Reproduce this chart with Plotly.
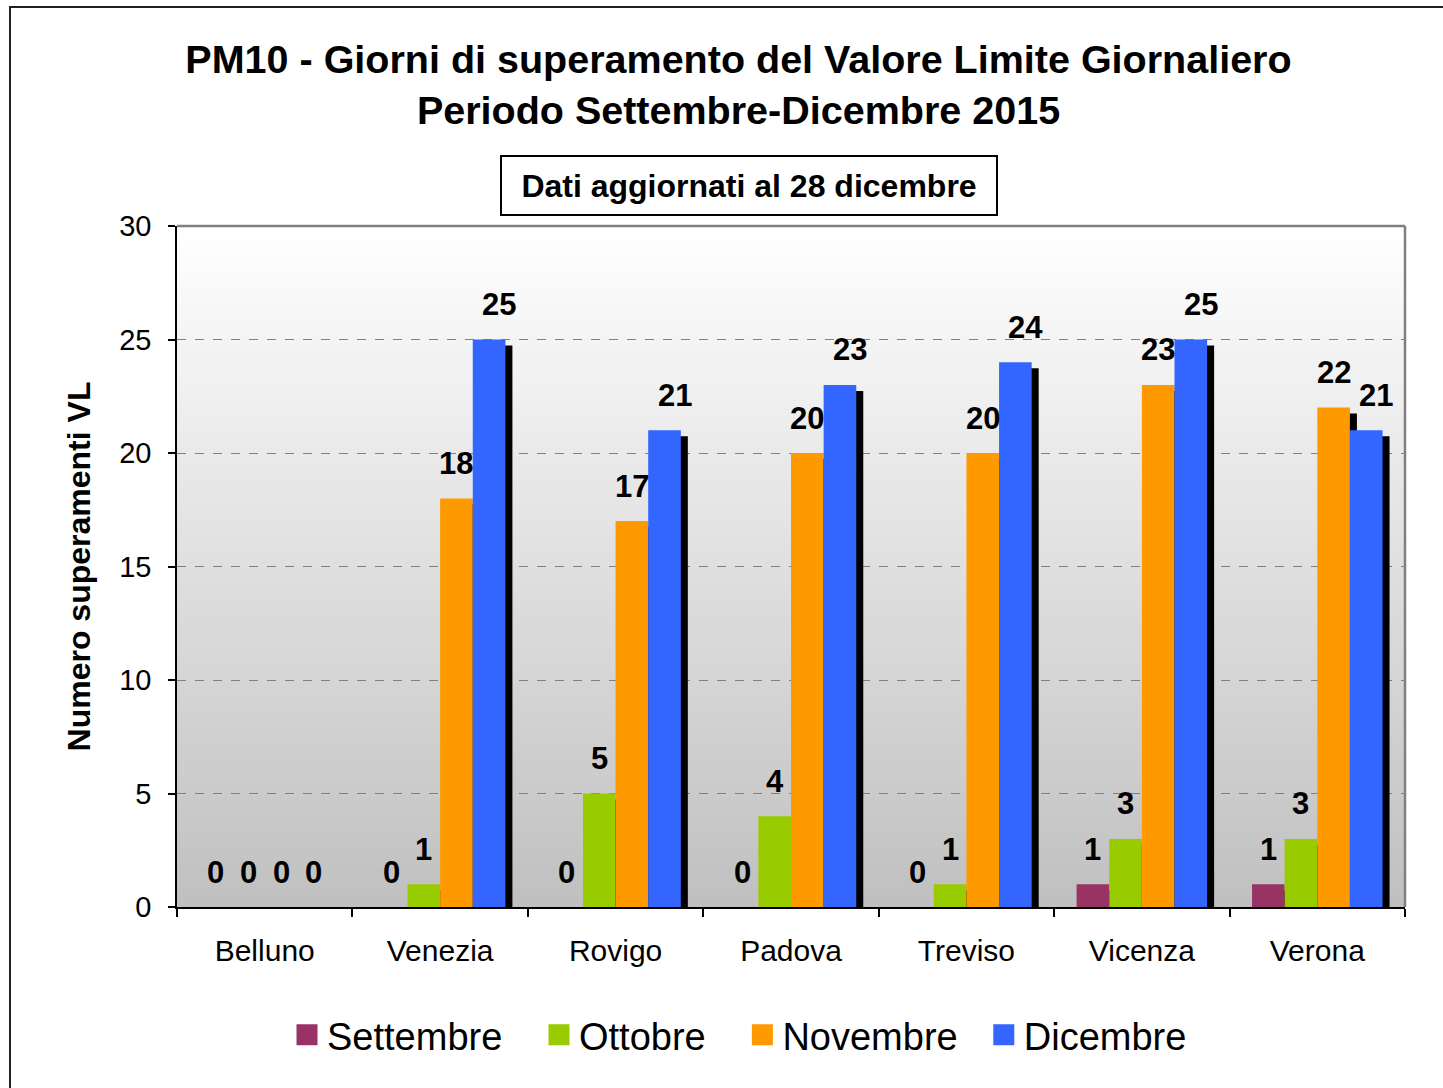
import plotly.graph_objects as go

# ---------------- data ----------------
categories = ["Belluno", "Venezia", "Rovigo", "Padova", "Treviso", "Vicenza", "Verona"]
settembre = [0, 0, 0, 0, 0, 1, 1]
ottobre = [0, 1, 5, 4, 1, 3, 3]
novembre = [0, 18, 17, 20, 20, 23, 22]
dicembre = [0, 25, 21, 23, 24, 25, 21]
series_names = ["Settembre", "Ottobre", "Novembre", "Dicembre"]
series_values = [settembre, ottobre, novembre, dicembre]
y_ticks = [0, 5, 10, 15, 20, 25, 30]

# ---------------- style ----------------
colors = ["#993366", "#99CC00", "#FF9900", "#3366FF"]
W, H = 1443, 1088
ML, MR, MT, MB = 177, 38, 226, 181
PW, PH = W - ML - MR, H - MT - MB
FONT = "Liberation Sans, Arial, sans-serif"
bar_w = 0.186
shadow_dx = 7 / (PW / 7)          # 7 px to the right
shadow_dy = 6 / (PH / 30)         # 6 px lower
label_dy = 35

fig = go.Figure()

offsets = [(-2 + k) * bar_w for k in range(4)]

# shadows first
for k, vals in enumerate(series_values):
    fig.add_trace(go.Bar(
        x=categories,
        y=[(v - shadow_dy) if v > 0 else None for v in vals],
        base=0, offset=offsets[k] + shadow_dx, width=bar_w,
        marker=dict(color="black", line=dict(width=0)),
        showlegend=False, hoverinfo="skip"))

# bars
for k, vals in enumerate(series_values):
    fig.add_trace(go.Bar(
        x=categories, y=vals, name=series_names[k],
        offset=offsets[k], width=bar_w,
        marker=dict(color=colors[k], line=dict(width=0)),
        showlegend=False))

# legend entries
pads = ["\u00a0\u00a0\u00a0", "\u00a0\u00a0\u00a0", "\u00a0\u00a0", ""]
for k, name in enumerate(series_names):
    fig.add_trace(go.Scatter(
        x=[None], y=[None], mode="markers", name=name + pads[k],
        marker=dict(symbol="square", size=16, color=colors[k],
                    line=dict(color=colors[k], width=5))))

annotations = []
# data labels
for k, vals in enumerate(series_values):
    for i, v in enumerate(vals):
        annotations.append(dict(
            x=i + offsets[k] + bar_w / 2, y=v, xref="x", yref="y",
            text=str(v), showarrow=False, yshift=label_dy,
            xshift=(10 if (k == 3 and v > 0) else 0),
            font=dict(family=FONT, size=31, color="black", weight="bold"),
            yanchor="middle", xanchor="center"))

# boxed note
annotations.append(dict(
    x=(749 - ML) / PW, y=(H - MB - 185.5) / PH, xref="paper", yref="paper",
    text="Dati aggiornati al 28 dicembre", showarrow=False,
    font=dict(family=FONT, size=32, color="black", weight="bold"),
    bordercolor="black", borderwidth=2, borderpad=2,
    width=490, height=53, bgcolor="white",
    xanchor="center", yanchor="middle"))

shapes = []
# gradient background
n = 68
for j in range(n):
    t0, t1 = j / n, (j + 1) / n
    c = int(round(255 - (255 - 192) * (1 - (t0 + t1) / 2)))
    shapes.append(dict(type="rect", xref="x domain", yref="y domain",
                       x0=0, x1=1, y0=t0, y1=t1 + 0.002, layer="below",
                       line=dict(width=0), fillcolor=f"rgb({c},{c},{c})"))
# top & right gray border of plot area
shapes.append(dict(type="line", xref="x domain", yref="y domain",
                   x0=0, x1=1, y0=1, y1=1, line=dict(color="#808080", width=2.5),
                   layer="above"))
shapes.append(dict(type="line", xref="x domain", yref="y domain",
                   x0=1, x1=1, y0=0, y1=1, line=dict(color="#808080", width=2.5),
                   layer="above"))
# outer chart border
shapes.append(dict(type="rect", xref="paper", yref="paper",
                   x0=(10 - ML) / PW, x1=1.2, y0=-0.5, y1=(H - MB - 7) / PH,
                   line=dict(color="#222222", width=2), fillcolor="rgba(0,0,0,0)",
                   layer="above"))

fig.update_layout(
    width=W, height=H,
    margin=dict(l=ML, r=MR, t=MT, b=MB, autoexpand=False),
    barmode="overlay",
    paper_bgcolor="white", plot_bgcolor="white",
    font=dict(family=FONT, color="black"),
    title=dict(
        text="PM10 - Giorni di superamento del Valore Limite Giornaliero<br>Periodo Settembre-Dicembre 2015",
        x=738.5 / W, xref="container", xanchor="center",
        y=1 - 73 / H, yref="container", yanchor="middle",
        font=dict(family=FONT, size=39.5, color="black", weight="bold")),
    xaxis=dict(
        type="category", range=[-0.5, 6.5], tickson="boundaries",
        ticks="outside", ticklen=8, tickcolor="black", tickwidth=1.5,
        showline=True, linecolor="black", linewidth=1.5,
        showgrid=False, zeroline=False,
        tickfont=dict(family=FONT, size=30, color="black"),
        ticklabelstandoff=16),
    yaxis=dict(
        range=[0, 30], tickvals=y_ticks, ticks="outside", ticklen=7,
        tickcolor="black", tickwidth=1.5,
        showline=True, linecolor="black", linewidth=1.5,
        showgrid=True, gridcolor="#808080", griddash="dash", gridwidth=1,
        zeroline=False,
        tickfont=dict(family=FONT, size=29, color="black"),
        ticklabelstandoff=11,
        title=dict(text="Numero superamenti VL", standoff=19,
                   font=dict(family=FONT, size=32, color="black", weight="bold"))),
    legend=dict(orientation="h", x=(287 - ML) / PW, xanchor="left",
                y=(H - MB - 1035) / PH, yanchor="middle",
                font=dict(family=FONT, size=38, color="black"),
                bgcolor="rgba(0,0,0,0)", borderwidth=0),
    annotations=annotations,
    shapes=shapes,
)

fig.write_html("out.html", config={"displayModeBar": False},
               post_script="document.body.style.margin='0';document.body.style.overflow='hidden';")
